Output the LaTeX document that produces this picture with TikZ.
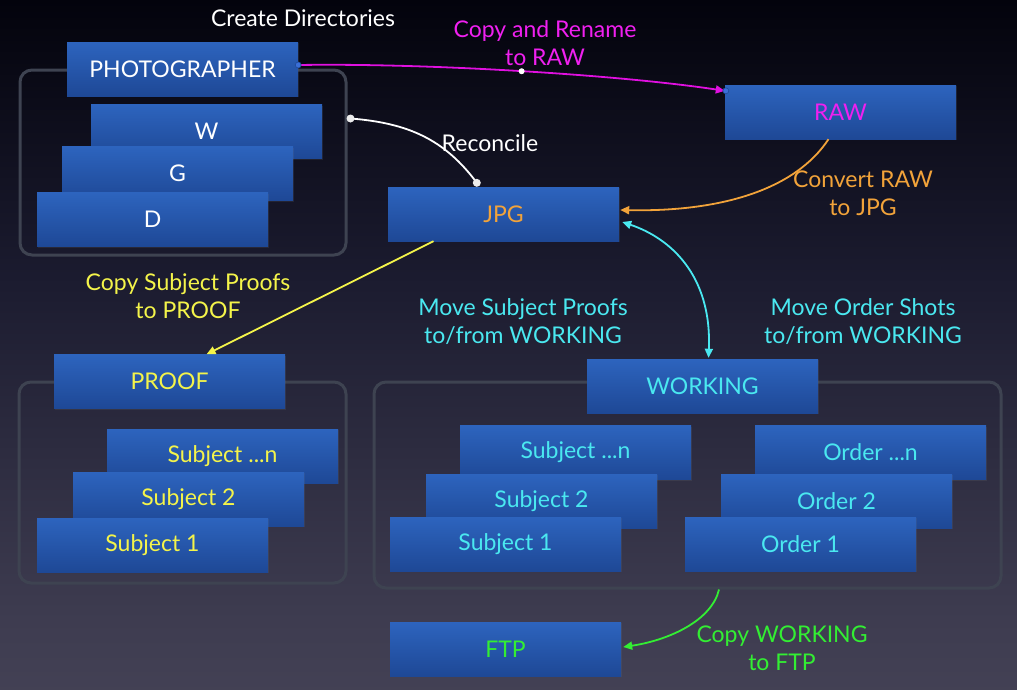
\documentclass[tikz,border=0pt]{standalone}
\usepackage{fontspec}
\setmainfont{Lato}
\usetikzlibrary{arrows.meta,calc,shadows}
\definecolor{boxtop}{HTML}{2D64BE}
\definecolor{boxbot}{HTML}{1E4896}
\definecolor{grpline}{HTML}{3E4351}
\definecolor{bgbot}{RGB}{90,88,106}
\definecolor{bgmidA}{RGB}{62,60,80}
\definecolor{bgmidB}{RGB}{27,27,47}
\definecolor{bgmidC}{RGB}{3,3,12}
\definecolor{cmag}{HTML}{F020F0}
\definecolor{lmag}{HTML}{E010E0}
\definecolor{corange}{HTML}{F2A33A}
\definecolor{cyel}{HTML}{F4F44A}
\definecolor{ccyan}{HTML}{4AE8F0}
\definecolor{cgreen}{HTML}{33EE33}
\definecolor{dotblue}{HTML}{3A6FD8}
\pgfdeclareverticalshading{bgshade}{100bp}{color(0bp)=(bgbot); color(30bp)=(bgmidA); color(55bp)=(bgmidB); color(75bp)=(bgmidC); color(100bp)=(black)}
\tikzset{
  dirbox/.style={rectangle, minimum width=231pt, minimum height=54pt, inner sep=0pt,
    top color=boxtop, bottom color=boxbot,
    drop shadow={shadow xshift=0.8pt, shadow yshift=-1.2pt, opacity=0.15},
    font=\fontsize{23}{28}\selectfont},
  grp/.style={rectangle, draw=grpline, line width=3pt, rounded corners=12pt, inner sep=0pt},
  lbl/.style={align=center, inner sep=0pt, font=\fontsize{23}{28}\selectfont},
  conn/.style={line width=1.8pt},
  tip/.style={-{Triangle[length=9pt,width=8pt]}},
  handle/.style={circle, minimum size=6pt, inner sep=0pt},
}
\begin{document}
\begin{tikzpicture}[x=1pt,y=1pt]
\useasboundingbox (0,0) rectangle (1017,-689);
\shade[shading=bgshade] (0,0) rectangle (1017,-689);

% containers
\node[grp, minimum width=326pt, minimum height=185pt] (cont1) at (183,-162.5) {};
\node[grp, minimum width=327pt, minimum height=201pt] (cont2) at (182.5,-482.5) {};
\node[grp, minimum width=627pt, minimum height=206pt] (cont3) at (687.5,-485) {};

% top-left group
\node[dirbox, text=white] (photo) at (182.5,-69) {PHOTOGRAPHER};
\node[dirbox, text=white] (w) at (206.5,-131.5) {W};
\node[dirbox, text=white] (g) at (177.5,-173.5) {G};
\node[dirbox, text=white] (d) at (152.5,-219.5) {D};

\node[dirbox, text=cmag] (raw) at (840.5,-112) {RAW};
\node[dirbox, text=corange] (jpg) at (503.5,-214) {JPG};

% proof group
\node[dirbox, text=cyel] (proof) at (169.5,-381.5) {PROOF};
\node[dirbox, text=cyel] (psn) at (222.5,-456) {Subject ...n};
\node[dirbox, text=cyel] (ps2) at (188.5,-499) {Subject 2};
\node[dirbox, text=cyel] (ps1) at (152.5,-545) {Subject 1};

% working group
\node[dirbox, text=ccyan] (working) at (702.5,-386) {WORKING};
\node[dirbox, text=ccyan] (wsn) at (575.5,-452.5) {Subject ...n};
\node[dirbox, text=ccyan] (ws2) at (541.5,-501) {Subject 2};
\node[dirbox, text=ccyan] (ws1) at (505.5,-544) {Subject 1};
\node[dirbox, text=ccyan] (won) at (870.5,-452.5) {Order ...n};
\node[dirbox, text=ccyan] (wo2) at (836.5,-501) {Order 2};
\node[dirbox, text=ccyan] (wo1) at (800.5,-544) {Order 1};

\node[dirbox, text=cgreen] (ftp) at (505.5,-649) {FTP};

% connector end points
\coordinate (pstart) at ($(photo.east)+(0,4)$);
\coordinate (rawin) at ($(raw.north west)+(0,-6)$);
\coordinate (recA) at ($(cont1.north east)+(3,-50)$);
\coordinate (recB) at ($(jpg.north west)+(89,4)$);
\coordinate (rawout) at ($(raw.south)+(-12,0)$);
\coordinate (jpgin) at ($(jpg.east)+(1,4)$);
\coordinate (jpgcy) at ($(jpg.east)+(3,-8)$);
\coordinate (workin) at ($(working.north)+(6,1)$);
\coordinate (jpgout) at ($(jpg.south)+(-70,0)$);
\coordinate (proofin) at ($(proof.north)+(37,0)$);
\coordinate (contout) at ($(cont3.south)+(31.5,0)$);
\coordinate (ftpin) at ($(ftp.east)+(2,2)$);

% connectors
\draw[conn, lmag, tip] (pstart) .. controls (430,-63) and (620,-75) .. (rawin)
  node[pos=0.5, handle, fill=white] (magmid) {};
\node[handle, fill=dotblue, draw=boxbot, line width=0.6pt] (pdot) at (pstart) {};
\node[handle, fill=dotblue, draw=boxbot, line width=0.6pt] (rdot) at ($(raw.north west)+(1,-6)$) {};

\draw[conn, white] (recA) .. controls (409,-123) and (445,-140) .. (recB);
\node[handle, fill=white!85!gray, minimum size=8pt] (recdotA) at (recA) {};
\node[handle, fill=white!85!gray, minimum size=8pt] (recdotB) at (recB) {};

\draw[conn, corange, tip] (rawout) .. controls (795,-190) and (720,-212) .. (jpgin);
\draw[conn, ccyan, {Triangle[length=9pt,width=8pt]}-{Triangle[length=9pt,width=8pt]}]
  (jpgcy) .. controls (670,-238) and (712,-275) .. (workin);
\draw[conn, cyel, tip] (jpgout) -- (proofin);
\draw[conn, cgreen, tip] (contout) .. controls (712,-620) and (670,-640) .. (ftpin);

% labels
\node[lbl, text=white] (lcreate) at (303,-18) {Create Directories};
\node[lbl, text=cmag] (lcopy) at (545,-43) {Copy and Rename\\to RAW};
\node[lbl, text=white] (lrec) at (490,-143) {Reconcile};
\node[lbl, text=corange] (lconv) at (863,-193) {Convert RAW\\to JPG};
\node[lbl, text=cyel] (lproof) at (188,-296) {Copy Subject Proofs\\to PROOF};
\node[lbl, text=ccyan] (lmsub) at (523,-322) {Move Subject Proofs\\to/from WORKING};
\node[lbl, text=ccyan] (lmord) at (863,-322) {Move Order Shots\\to/from WORKING};
\node[lbl, text=cgreen] (lftp) at (782,-648) {Copy WORKING\\to FTP};
\end{tikzpicture}
\end{document}
